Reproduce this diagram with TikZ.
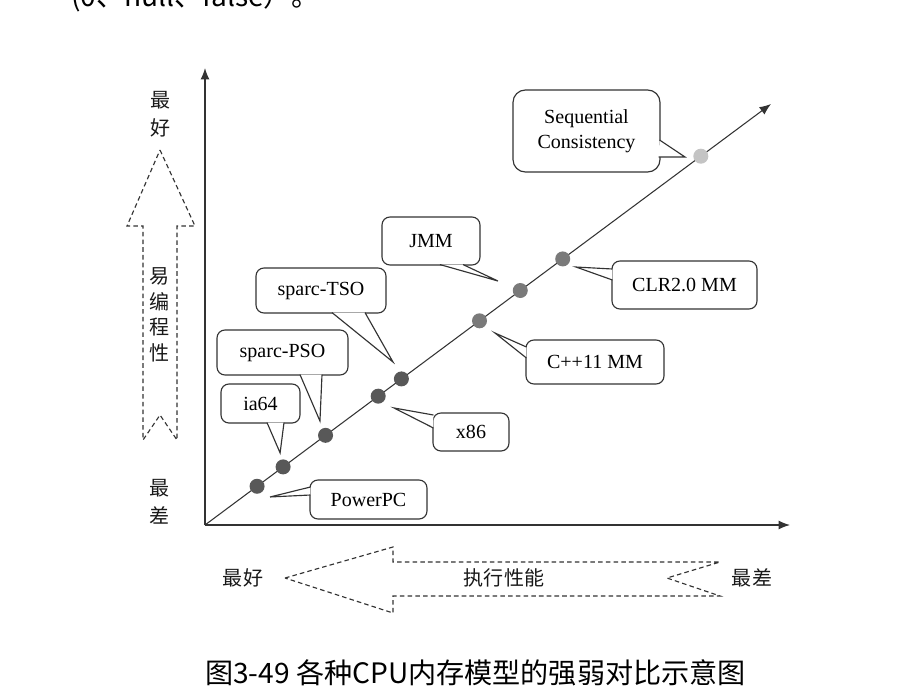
\documentclass[tikz,border=0pt]{standalone}
\usepackage{fontspec}
\setmainfont{Liberation Serif}
\newfontfamily\cjk{Noto Sans CJK SC}
\usetikzlibrary{calc,arrows.meta}

\definecolor{dotdark}{HTML}{585858}
\definecolor{dotmid}{HTML}{7A7A7A}
\definecolor{dotlight}{HTML}{C4C4C4}

% pointer of a callout: base point, tip, base point
\newcommand{\tail}[3]{\filldraw[tailline] (#1) -- (#2) -- (#3);}

\begin{document}
\begin{tikzpicture}[x=0.02cm, y=-0.02cm,
                    model/.style={draw=black!80, fill=white, line width=0.65pt, rounded corners=4.5pt,
                                  inner sep=0pt, align=center, font=\fontsize{11.4}{14.2}\selectfont},
                    tailline/.style={draw=black!80, fill=white, line width=0.65pt},
                    mdot/.style={circle, fill=#1, inner sep=0pt, minimum size=0.3cm},
                    hollow/.style={draw=black!80, line width=0.65pt, dash pattern=on 2.6pt off 1.8pt},
                    cnlabel/.style={font=\cjk\fontsize{11.4}{15.9}\selectfont, text=black!90, align=center, inner sep=0pt},
                    axisline/.style={draw=black!80, line width=0.8pt, -{Latex[length=6.5pt,width=5.2pt]}}
]
\useasboundingbox (0,0) rectangle (910,700);
\clip (0,0) rectangle (910,700);
\fill[white] (0,0) rectangle (910,700);

% text around the figure
\node[anchor=base west, font=\cjk\fontsize{16}{19}\selectfont] (prevline) at (65,6) {(0、null、false）。};
\node[anchor=base west, font=\cjk\fontsize{16}{19}\selectfont] (caption) at (199,683) {图3-49 各种CPU内存模型的强弱对比示意图};

% axes
\coordinate (O) at (205,525);
\coordinate (ytop) at (205,68);
\coordinate (xend) at (790,525);
\coordinate (diagend) at (771,104);
\draw[axisline] (O) -- (ytop);
\draw[axisline] (O) -- (xend);
\draw[axisline, line width=0.6pt] (O) -- (diagend)
    node[mdot=dotdark, pos=0.092] (ppcdot) {}
    node[mdot=dotdark, pos=0.138] (iadot) {}
    node[mdot=dotdark, pos=0.213] (psodot) {}
    node[mdot=dotdark, pos=0.306] (xdot) {}
    node[mdot=dotdark, pos=0.347] (tsodot) {}
    node[mdot=dotmid, pos=0.485] (cppdot) {}
    node[mdot=dotmid, pos=0.557] (jmmdot) {}
    node[mdot=dotmid, pos=0.632] (clrdot) {}
    node[mdot=dotlight, pos=0.876] (scdot) {};

% dashed arrows
\draw[hollow] (160,150) -- (195,226) -- (177,226) -- (177,440) -- (160,415) -- (143,440) -- (143,226) -- (127,226) -- cycle;
\draw[hollow] (285,578) -- (393,547) -- (393,562) -- (720,562) -- (667,578) -- (720,596) -- (393,596) -- (393,613) -- cycle;
\node[cnlabel] (ybest) at (161,114) {最\\好};
\node[cnlabel, font=\cjk\fontsize{11.4}{14.6}\selectfont] (yease) at (160,315) {易\\编\\程\\性};
\node[cnlabel] (yworst) at (160,502) {最\\差};
\node[cnlabel] (xbest) at (243,578) {最好};
\node[cnlabel] (xperf) at (504,578) {执行性能};
\node[cnlabel] (xworst) at (752,578) {最差};

% callouts
\node[model, minimum width=2.34cm, minimum height=0.78cm] (ppc) at (368.5,499.5) {PowerPC};
\node[model, minimum width=1.58cm, minimum height=0.78cm] (ia) at (260.5,403.5) {ia64};
\node[model, minimum width=2.62cm, minimum height=0.9cm] (pso) at (282.5,352.5) {sparc-PSO};
\node[model, minimum width=2.6cm, minimum height=0.9cm] (tso) at (321,290.5) {sparc-TSO};
\node[model, minimum width=1.52cm, minimum height=0.76cm] (xe) at (471,432) {x86};
\node[model, minimum width=2.76cm, minimum height=0.88cm] (cpp) at (595,362) {C++11 MM};
\node[model, minimum width=1.96cm, minimum height=0.96cm] (jmm) at (431,241) {JMM};
\node[model, minimum width=2.9cm, minimum height=0.96cm] (clr) at (684.5,285) {CLR2.0 MM};
\node[model, minimum width=2.94cm, minimum height=1.64cm, rounded corners=7pt] (sc) at (586.5,131) {Sequential\\Consistency};
%
\coordinate (ppctip) at ($(ppcdot)+(13,10.7)$);
\coordinate (iatip) at ($(iadot)+(-3,-14)$);
\coordinate (psotip) at ($(psodot)+(-5.6,-14.3)$);
\coordinate (tsotip) at ($(tsodot)+(-8.4,-16.9)$);
\coordinate (xetip) at ($(xdot)+(15.8,11.8)$);
\coordinate (cpptip) at ($(cppdot)+(15.5,12.2)$);
\coordinate (jmmtip) at ($(jmmdot)+(-22.3,-9.5)$);
\coordinate (clrtip) at ($(clrdot)+(13.3,8.1)$);
\coordinate (sctip) at ($(scdot)+(-15.8,0.8)$);
%
\tail{$(ppc.west)+(1,-12.5)$}{ppctip}{$(ppc.west)+(1,-4.5)$}
\tail{$(ia.south)+(6.5,-1)$}{iatip}{$(ia.south)+(23.5,-1)$}
\tail{$(pso.south)+(17.5,-1)$}{psotip}{$(pso.south)+(39.5,-1)$}
\tail{$(tso.south)+(11,-1)$}{tsotip}{$(tso.south)+(44,-1)$}
\tail{$(xe.west)+(1,-17)$}{xetip}{$(xe.west)+(1,-4)$}
\tail{$(cpp.west)+(1,-15)$}{cpptip}{$(cpp.west)+(1,-4)$}
\tail{$(jmm.south)+(9,-1)$}{jmmtip}{$(jmm.south)+(32,-1)$}
\tail{$(clr.west)+(1,-16)$}{clrtip}{$(clr.west)+(1,-5)$}
\tail{$(sc.east)+(-1,9)$}{sctip}{$(sc.east)+(-2,26)$}
\end{tikzpicture}
\end{document}
